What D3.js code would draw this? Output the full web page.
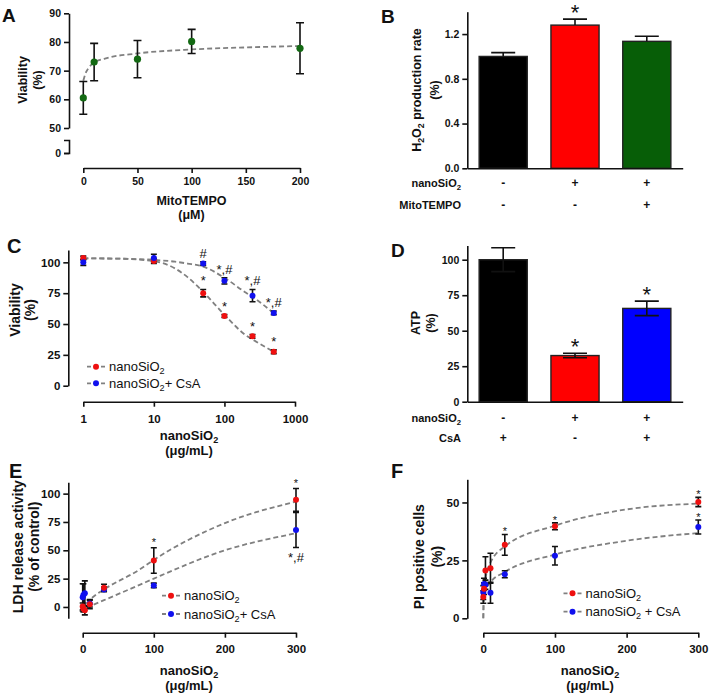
<!DOCTYPE html>
<html>
<head>
<meta charset="utf-8">
<script src="https://cdn.jsdelivr.net/npm/d3@7"></script>
<style>
  body { margin: 0; background: #fff; }
  svg { display: block; font-family: "Liberation Sans", Arial, sans-serif; }
</style>
</head>
<body>
<svg id="fig" width="709" height="693"></svg>
<script>
// ---- A: viability vs MitoTEMPO (uM)
const aDose = [0, 10, 50, 100, 200];
const aViability = [60.5, 73, 74, 80.2, 77.8];
const aSem = [5.7, 6.5, 6.5, 4.2, 8.9];
const aFitDose = [0, 2, 5, 10, 20, 50, 100, 150, 200];
const aFitViability = [66.5, 69, 71, 72.8, 74.2, 76, 77.4, 78.1, 78.6];

// ---- B: H2O2 production rate
const bRate = [1.0, 1.28, 1.135];
const bSem = [0.034, 0.054, 0.045];
const bColors = ['#000000', '#ff0000', '#075e07'];
const bMarks = ['', '*', ''];
const bNano = ['-', '+', '+'];
const bMito = ['-', '-', '+'];

// ---- C: viability vs nanoSiO2 (log dose)
const cDose = [1, 10, 50, 100, 250, 500];
const cNano = [103.5, 101, 75, 56.5, 40, 27.5];
const cNanoSem = [1.5, 2, 3, 1.2, 1.5, 1.5];
const cCsa = [100, 103.5, 99, 85, 73, 59];
const cCsaSem = [2.5, 3, 1.5, 2.5, 5, 1.5];
const cNanoMarks = ['', '', '*', '*', '*', '*'];
const cCsaMarks = ['', '', '#', '*,#', '*,#', '*,#'];
const cFitDose = [1, 3, 10, 20, 30, 50, 100, 200, 250, 500];
const cFitNano = [103.2, 103, 101, 95, 88, 76, 57.5, 41, 37.5, 27.5];
const cFitCsa = [103.2, 103, 102, 100.5, 99, 96.5, 87.5, 75.5, 72, 58.7];

// ---- D: ATP
const dAtp = [100, 32.5, 65.7];
const dSem = [8.4, 1.6, 5.1];
const dColors = ['#000000', '#ff0000', '#0000ff'];
const dMarks = ['', '*', '*'];
const dNano = ['-', '+', '+'];
const dCsa = ['+', '-', '+'];

// ---- E: LDH release
const eDose = [0, 1, 3, 10, 30, 100, 300];
const eNano = [0.5, -1.5, -3, 2.5, 17, 41, 94.5];
const eNanoSem = [3, 3, 4, 4, 3, 11.3, 10];
const eCsa = [8.5, 10.5, 12, 3, 15.5, 19, 68];
const eCsaSem = [12, 10, 11, 3, 2, 2, 15.5];
const eNanoMarks = ['', '', '', '', '', '*', '*'];
const eCsaMarks = ['', '', '', '', '', '', '*,#'];
const eFitDose = [5, 15, 30, 80, 100, 200, 300];
const eFitNano = [3, 9, 15.5, 33, 41.5, 74, 93];
const eFitCsa = [-0.5, 2, 6, 19.5, 25, 50, 65];

// ---- F: PI positive cells
const fDose = [0, 1, 3, 10, 30, 100, 300];
const fNano = [9.2, 12.8, 20.6, 21.6, 31.7, 39.7, 50.2];
const fNanoSem = [2.7, 2.5, 6, 6.5, 4.5, 1.5, 2];
const fCsa = [11.1, 14.8, 14.5, 11, 19, 27, 39.4];
const fCsaSem = [3, 2.5, 2, 4.5, 1.5, 4, 3];
const fNanoMarks = ['', '', '', '', '*', '*', '*'];
const fCsaMarks = ['', '', '', '', '', '', '*'];
const fFitDose = [0, 0.3, 1, 3, 10, 30, 100, 200, 300];
const fFitNano = [0, 6, 11, 17, 24, 31, 40, 47, 49.5];
const fFitCsa = [0, 5, 8.5, 12, 15.5, 20, 27.5, 33.5, 36.8];

const svg = d3.select('#fig');
const red = '#ee1010';
const blue = '#1010ee';
const fitGray = '#808080';

// text with "_2" style subscripts
function rich(t, str) {
  let down = false;
  str.split(/(_\d)/).forEach(p => {
    if (!p) return;
    if (p[0] === '_') {
      t.append('tspan').attr('dy', 3).attr('font-size', '0.7em').text(p.slice(1));
      down = true;
    } else {
      const s = t.append('tspan').text(p);
      if (down) { s.attr('dy', -3); down = false; }
    }
  });
}

function label(x, y, str, o = {}) {
  const t = svg.append('text').attr('x', x).attr('y', y)
      .attr('font-size', o.size || 12)
      .attr('font-weight', o.weight || 'bold')
      .attr('text-anchor', o.anchor || 'middle')
      .attr('fill', '#111');
  if (o.rotate) t.attr('transform', `rotate(-90,${x},${y})`);
  rich(t, str);
  return t;
}

function styleAxis(a, size) {
  a.attr('font-family', null).attr('font-size', null);
  a.selectAll('path, line').attr('stroke', '#111').attr('stroke-width', 1.6);
  a.selectAll('text').attr('font-size', size).attr('font-weight', 'bold').attr('fill', '#111');
}

function yAxis(scale, x, ticks, size, fmt) {
  svg.append('g').attr('transform', `translate(${x},0)`)
    .call(d3.axisLeft(scale).tickValues(ticks).tickFormat(fmt || d3.format('d'))
      .tickSize(5).tickSizeOuter(0).tickPadding(3))
    .call(a => styleAxis(a, size));
}

function xAxis(scale, y, ticks, size, pad) {
  svg.append('g').attr('transform', `translate(0,${y})`)
    .call(d3.axisBottom(scale).tickValues(ticks).tickFormat(d3.format('d'))
      .tickSize(5).tickSizeOuter(0).tickPadding(pad))
    .call(a => styleAxis(a, size));
}

function errBars(xs, ys, es, x, y, cap, upOnly) {
  svg.append('g').selectAll('path')
    .data(xs.map((d, i) => ({x: d, y: ys[i], e: es[i]})))
    .join('path')
      .attr('d', d => {
        const px = x(d.x), top = y(d.y + d.e), bot = upOnly ? y(d.y) : y(d.y - d.e);
        let p = `M${px},${bot}V${top}M${px - cap},${top}H${px + cap}`;
        if (!upOnly) p += `M${px - cap},${bot}H${px + cap}`;
        return p;
      })
      .attr('stroke', '#111').attr('stroke-width', 1.6).attr('fill', 'none');
}

function dots(xs, ys, x, y, color, r) {
  svg.append('g').selectAll('circle')
    .data(xs.map((d, i) => ({x: d, y: ys[i]})))
    .join('circle')
      .attr('cx', d => x(d.x)).attr('cy', d => y(d.y)).attr('r', r)
      .attr('fill', color);
}

function fit(xs, ys, x, y) {
  const line = d3.line().x(d => x(d[0])).y(d => y(d[1])).curve(d3.curveMonotoneX);
  svg.append('path').datum(xs.map((d, i) => [d, ys[i]]))
    .attr('d', line).attr('fill', 'none')
    .attr('stroke', fitGray).attr('stroke-width', 1.8).attr('stroke-dasharray', '5,3');
}

// significance marks above (or below) the error bar
function marks(xs, ys, es, labels, x, y, size, dy, below) {
  svg.append('g').selectAll('text')
    .data(xs.map((d, i) => ({x: d, y: ys[i], e: es[i], t: labels[i]})).filter(d => d.t))
    .join('text')
      .attr('x', d => x(d.x))
      .attr('y', d => (below ? y(d.y - d.e) : y(d.y + d.e)) + dy)
      .attr('text-anchor', 'middle')
      .attr('font-size', size)
      .attr('fill', '#111')
      .text(d => d.t);
}

function legend(x, y, color, str) {
  svg.append('line').attr('x1', x - 9).attr('x2', x + 9).attr('y1', y).attr('y2', y)
    .attr('stroke', fitGray).attr('stroke-width', 1.8).attr('stroke-dasharray', '4,3');
  svg.append('circle').attr('cx', x).attr('cy', y).attr('r', 3).attr('fill', color);
  label(x + 13, y + 4.5, str, {size: 13, weight: 'normal', anchor: 'start'});
}

// ================= A =================
{
  const x = d3.scaleLinear().domain([0, 200]).range([83.3, 300]);
  const y = d3.scaleLinear().domain([50, 90]).range([128, 13.3]);
  const yLow = d3.scaleLinear().domain([0, 4.5]).range([153, 140]);
  yAxis(y, 69, [50, 60, 70, 80, 90], 10.5);
  // broken axis: short lower piece carrying the 0 tick
  svg.append('g').attr('transform', 'translate(69,0)')
    .call(d3.axisLeft(yLow).tickValues([0]).tickFormat(d3.format('d'))
      .tickSize(5).tickSizeOuter(5).tickPadding(3))
    .call(a => styleAxis(a, 10.5));
  xAxis(x, 168, [0, 50, 100, 150, 200], 10.5, 5);
  fit(aFitDose, aFitViability, x, y);
  errBars(aDose, aViability, aSem, x, y, 4, false);
  dots(aDose, aViability, x, y, '#136913', 3.6);
  label(27, 80, 'Viability', {size: 12.5, rotate: true});
  label(42, 80, '(%)', {size: 12.5, rotate: true});
  label(191.5, 204.5, 'MitoTEMPO', {size: 12.5});
  label(191.5, 219, '(\u03bcM)', {size: 12.5});
  label(2, 21.5, 'A', {size: 19, anchor: 'start'});
}

// ================= bar panels (B, D) =================
const barX = d3.scaleBand().domain([0, 1, 2]).range([467.3, 682.7])
    .paddingInner(0.33).paddingOuter(0.165);
const barMid = i => barX(i) + barX.bandwidth() / 2;

function barPanel(y, baseY, vals, sems, colors, ticks, fmt, barMarks, upOnly) {
  yAxis(y, 467.3, ticks, 10.5, fmt);
  svg.append('g').selectAll('rect')
    .data(vals)
    .join('rect')
      .attr('x', (d, i) => barX(i))
      .attr('y', d => y(d))
      .attr('width', barX.bandwidth())
      .attr('height', d => y(0) - y(d))
      .attr('fill', (d, i) => colors[i])
      .attr('stroke', '#222').attr('stroke-width', 1.4);
  errBars([0, 1, 2], vals, sems, barMid, y, 12, upOnly);
  svg.append('g').attr('transform', `translate(0,${baseY})`)
    .call(d3.axisBottom(barX).tickSize(0).tickSizeOuter(0).tickFormat(''))
    .call(a => styleAxis(a, 10.5));
  marks([0, 1, 2], vals, sems, barMarks, barMid, y, 22, 1);
}

function rowLabels(name, signs, yPos) {
  label(461, yPos, name, {size: 11, anchor: 'end'});
  signs.forEach((s, i) => label(barMid(i), yPos, s, {size: 12}));
}

// ================= B =================
{
  const y = d3.scaleLinear().domain([0, 1.4]).range([168.3, 11.7]);
  barPanel(y, 168.3, bRate, bSem, bColors, [0, 0.4, 0.8, 1.2], d3.format('.1f'), bMarks, true);
  rowLabels('nanoSiO_2', bNano, 187);
  rowLabels('MitoTEMPO', bMito, 209);
  label(421, 90, 'H_2O_2 production rate', {size: 12.5, rotate: true});
  label(439, 90, '(%)', {size: 12.5, rotate: true});
  label(381, 23, 'B', {size: 19, anchor: 'start'});
}

// ================= D =================
{
  const y = d3.scaleLinear().domain([0, 110]).range([401.7, 245.5]);
  barPanel(y, 401.7, dAtp, dSem, dColors, [0, 25, 50, 75, 100], d3.format('d'), dMarks, false);
  rowLabels('nanoSiO_2', dNano, 422);
  rowLabels('CsA', dCsa, 442);
  label(419.5, 323, 'ATP', {size: 12.5, rotate: true});
  label(435, 323, '(%)', {size: 12.5, rotate: true});
  label(391, 257, 'D', {size: 19, anchor: 'start'});
}

// ================= C =================
{
  const x = d3.scaleLog().domain([1, 1000]).range([83.3, 295]);
  const y = d3.scaleLinear().domain([0, 110]).range([385.7, 250]);
  yAxis(y, 68.3, [0, 25, 50, 75, 100], 11.5);
  xAxis(x, 401.7, [1, 10, 100, 1000], 11.5, 8);
  fit(cFitDose, cFitNano, x, y);
  fit(cFitDose, cFitCsa, x, y);
  errBars(cDose, cNano, cNanoSem, x, y, 3, false);
  errBars(cDose, cCsa, cCsaSem, x, y, 3, false);
  dots(cDose, cNano, x, y, red, 3);
  dots(cDose, cCsa, x, y, blue, 3);
  marks(cDose, cNano, cNanoSem, cNanoMarks, x, y, 13, -4);
  marks(cDose, cCsa, cCsaSem, cCsaMarks, x, y, 13, -4);
  legend(96, 366.7, red, 'nanoSiO_2');
  legend(96, 383.3, blue, 'nanoSiO_2+ CsA');
  label(19.5, 310, 'Viability', {size: 14, rotate: true});
  label(35, 310, '(%)', {size: 14, rotate: true});
  label(189, 440, 'nanoSiO_2', {size: 13});
  label(189, 455, '(\u03bcg/mL)', {size: 13});
  label(7, 253, 'C', {size: 20, anchor: 'start'});
}

// ================= E =================
{
  const x = d3.scaleLinear().domain([0, 300]).range([82.7, 296]);
  const y = d3.scaleLinear().domain([-10, 110]).range([618.3, 482.3]);
  yAxis(y, 68.3, [0, 25, 50, 75, 100], 11.5);
  xAxis(x, 632.7, [0, 100, 200, 300], 11.5, 7);
  fit(eFitDose, eFitNano, x, y);
  fit(eFitDose, eFitCsa, x, y);
  errBars(eDose, eCsa, eCsaSem, x, y, 3, false);
  errBars(eDose, eNano, eNanoSem, x, y, 3, false);
  dots(eDose, eCsa, x, y, blue, 3);
  dots(eDose, eNano, x, y, red, 3);
  marks(eDose, eNano, eNanoSem, eNanoMarks, x, y, 11, -2);
  marks(eDose, eCsa, eCsaSem, eCsaMarks, x, y, 13, 15, true);
  legend(171, 595.7, red, 'nanoSiO_2');
  legend(171, 614, blue, 'nanoSiO_2+ CsA');
  label(23, 546.7, 'LDH release activity', {size: 14, rotate: true});
  label(39, 546.7, '(% of control)', {size: 14, rotate: true});
  label(189, 675, 'nanoSiO_2', {size: 13});
  label(189, 690, '(\u03bcg/mL)', {size: 13});
  label(9, 478, 'E', {size: 20, anchor: 'start'});
}

// ================= F =================
{
  const x = d3.scaleLinear().domain([0, 300]).range([483.3, 698.3]);
  const y = d3.scaleLinear().domain([0, 60]).range([618.3, 479.3]);
  yAxis(y, 467.3, [0, 25, 50], 11.5);
  xAxis(x, 632.7, [0, 100, 200, 300], 11.5, 7);
  fit(fFitDose, fFitNano, x, y);
  fit(fFitDose, fFitCsa, x, y);
  errBars(fDose, fCsa, fCsaSem, x, y, 3, false);
  errBars(fDose, fNano, fNanoSem, x, y, 3, false);
  dots(fDose, fCsa, x, y, blue, 3);
  dots(fDose, fNano, x, y, red, 3);
  marks(fDose, fNano, fNanoSem, fNanoMarks, x, y, 11, 1);
  marks(fDose, fCsa, fCsaSem, fCsaMarks, x, y, 11, 1);
  legend(572.5, 593.3, red, 'nanoSiO_2');
  legend(572.5, 611.7, blue, 'nanoSiO_2 + CsA');
  label(424.5, 556.7, 'PI positive cells', {size: 14, rotate: true});
  label(442, 556.7, '(%)', {size: 14, rotate: true});
  label(590, 675, 'nanoSiO_2', {size: 13});
  label(590, 690, '(\u03bcg/mL)', {size: 13});
  label(391, 478, 'F', {size: 20, anchor: 'start'});
}
</script>
</body>
</html>
